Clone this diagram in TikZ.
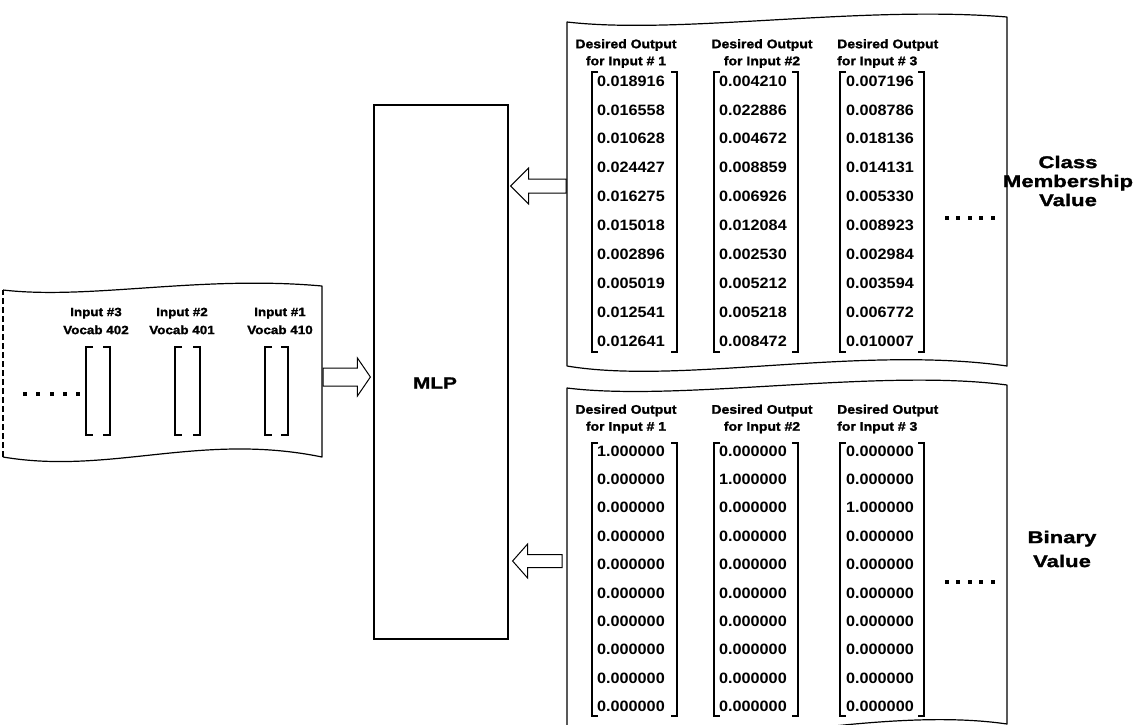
\documentclass[tikz,border=0pt]{standalone}
\usepackage{fontspec}
\setmainfont{Liberation Sans}
\newfontfamily\hdrfont[FakeStretch=1.12,FakeBold=1.5]{Liberation Sans}
\newfontfamily\numfont[FakeStretch=1.08]{Liberation Sans}
\newfontfamily\bigfont[FakeStretch=1.3,FakeBold=1.5]{Liberation Sans}
\usetikzlibrary{calc}
\begin{document}
\begin{tikzpicture}[x=1pt,y=-1pt,
  docline/.style={line width=1.2pt,line join=round},
  hdr/.style={font=\hdrfont\bfseries\fontsize{12.5}{17}\selectfont,align=center,inner sep=0pt},
  inlbl/.style={font=\hdrfont\bfseries\fontsize{12}{18}\selectfont,align=center,inner sep=0pt},
  num/.style={font=\numfont\bfseries\fontsize{15}{18}\selectfont,inner sep=0pt,anchor=west},
  biglbl/.style={font=\bigfont\bfseries\fontsize{17}{19}\selectfont,align=center,inner sep=0pt},
  brk/.style={line width=1.4pt},
  ibrk/.style={line width=2pt},
  blockarrow/.style={line width=1pt,line join=miter},
  dotmark/.style={fill=black,draw=none}]
\useasboundingbox (0,0) rectangle (1148,724);
\clip (0,0) rectangle (1148,724);
\fill[white] (0,0) rectangle (1148,724);

% ---------- input document ----------
\draw[docline] (3,290) .. controls (90,300) and (200,275) .. (322,286) -- (322,457)
  .. controls (200,432) and (110,475) .. (3,457);
\draw[docline,dash pattern=on 6pt off 3pt] (3,457) -- (3,290);

\node[inlbl] (in3) at (96,321) {Input \#3\\Vocab 402};
\node[inlbl] (in2) at (182,321) {Input \#2\\Vocab 401};
\node[inlbl] (in1) at (280,321) {Input \#1\\Vocab 410};

\foreach \xl/\xr in {86/110,175/200,265/288}{
  \draw[ibrk] ({\xl+7},347) -- (\xl,347) -- (\xl,435) -- ({\xl+7},435);
  \draw[ibrk] ({\xr-7},347) -- (\xr,347) -- (\xr,435) -- ({\xr-7},435);
}
\foreach \x in {25,38,52,65,78}{\fill[dotmark] ({\x-2.2},391.8) rectangle ++(4.4,4.4);}

% ---------- MLP ----------
\node[draw,line width=1.2pt,minimum width=134pt,minimum height=534pt,inner sep=0pt] (mlp) at (441,372) {};
\node[biglbl,font=\bigfont\bfseries\fontsize{16}{19}\selectfont] (mlplbl) at (435,383) {MLP};

% ---------- upper output document ----------
\draw[docline] (567,22) .. controls (680,35) and (860,5) .. (1007,17) -- (1007,366)
  .. controls (860,345) and (680,385) .. (567,366) -- cycle;

\node[hdr] (uh1) at (626,53.5) {Desired Output\\for Input \# 1};
\node[hdr] (uh2) at (762,53.5) {Desired Output\\for Input \#2};
\node[hdr,align=left,anchor=west] (uh3) at (837,53.5) {Desired Output\\for Input \# 3};

\foreach \v [count=\i] in {0.018916,0.016558,0.010628,0.024427,0.016275,0.015018,0.002896,0.005019,0.012541,0.012641}
  {\node[num] (ua\i) at (597,{81+(\i-1)*28.9}) {\v};}
\foreach \v [count=\i] in {0.004210,0.022886,0.004672,0.008859,0.006926,0.012084,0.002530,0.005212,0.005218,0.008472}
  {\node[num] (ub\i) at (719,{81+(\i-1)*28.9}) {\v};}
\foreach \v [count=\i] in {0.007196,0.008786,0.018136,0.014131,0.005330,0.008923,0.002984,0.003594,0.006772,0.010007}
  {\node[num] (uc\i) at (846,{81+(\i-1)*28.9}) {\v};}

\foreach \xl/\xr in {592/677,714/798,840/924}{
  \draw[brk] ({\xl+6},72) -- (\xl,72) -- (\xl,352) -- ({\xl+6},352);
  \draw[brk] ({\xr-6},72) -- (\xr,72) -- (\xr,352) -- ({\xr-6},352);
}
\foreach \x in {947,958,970,981,993}{\fill[dotmark] ({\x-1.9},216.1) rectangle ++(3.8,3.8);}
\node[biglbl] (cmv) at (1068,181) {Class\\Membership\\Value};

% ---------- lower output document ----------
\draw[docline] (567,388) .. controls (680,402) and (880,368) .. (1007,385) -- (1007,724)
  .. controls (870,704) and (680,760) .. (567,742) -- cycle;

\node[hdr] (lh1) at (626,419) {Desired Output\\for Input \# 1};
\node[hdr] (lh2) at (762,419) {Desired Output\\for Input \#2};
\node[hdr,align=left,anchor=west] (lh3) at (837,419) {Desired Output\\for Input \# 3};

\foreach \v [count=\i] in {1.000000,0.000000,0.000000,0.000000,0.000000,0.000000,0.000000,0.000000,0.000000,0.000000}
  {\node[num] (la\i) at (597,{451+(\i-1)*28.4}) {\v};}
\foreach \v [count=\i] in {0.000000,1.000000,0.000000,0.000000,0.000000,0.000000,0.000000,0.000000,0.000000,0.000000}
  {\node[num] (lb\i) at (719,{451+(\i-1)*28.4}) {\v};}
\foreach \v [count=\i] in {0.000000,0.000000,1.000000,0.000000,0.000000,0.000000,0.000000,0.000000,0.000000,0.000000}
  {\node[num] (lc\i) at (846,{451+(\i-1)*28.4}) {\v};}

\foreach \xl/\xr in {592/677,714/798,840/924}{
  \draw[brk] ({\xl+6},443) -- (\xl,443) -- (\xl,716) -- ({\xl+6},716);
  \draw[brk] ({\xr-6},443) -- (\xr,443) -- (\xr,716) -- ({\xr-6},716);
}
\foreach \x in {947,958,970,981,993}{\fill[dotmark] ({\x-1.9},580.1) rectangle ++(3.8,3.8);}
\node[biglbl,font=\bigfont\bfseries\fontsize{17}{24}\selectfont] (bv) at (1062,549) {Binary\\Value};

% ---------- hollow block arrows ----------
\coordinate (a1t) at (323,377);
\coordinate (a1h) at ($(mlp.west|-a1t)+(-3,0)$);
\draw[blockarrow] ($(a1t)+(0,-9)$) -- ($(a1h)+(-13,-9)$) -- ($(a1h)+(-13,-19)$) -- (a1h)
  -- ($(a1h)+(-13,19)$) -- ($(a1h)+(-13,9)$) -- ($(a1t)+(0,9)$) -- cycle;

\coordinate (b1t) at (566,186);
\coordinate (b1h) at ($(mlp.east|-b1t)+(2,0)$);
\draw[blockarrow] ($(b1t)+(0,-7)$) -- ($(b1h)+(18,-7)$) -- ($(b1h)+(18,-18)$) -- (b1h)
  -- ($(b1h)+(18,18)$) -- ($(b1h)+(18,7)$) -- ($(b1t)+(0,7)$) -- cycle;

\coordinate (c1t) at (562,561);
\coordinate (c1h) at ($(mlp.east|-c1t)+(4,0)$);
\draw[blockarrow] ($(c1t)+(0,-6.5)$) -- ($(c1h)+(15,-6.5)$) -- ($(c1h)+(15,-17)$) -- (c1h)
  -- ($(c1h)+(15,17)$) -- ($(c1h)+(15,6.5)$) -- ($(c1t)+(0,6.5)$) -- cycle;
\end{tikzpicture}
\end{document}
